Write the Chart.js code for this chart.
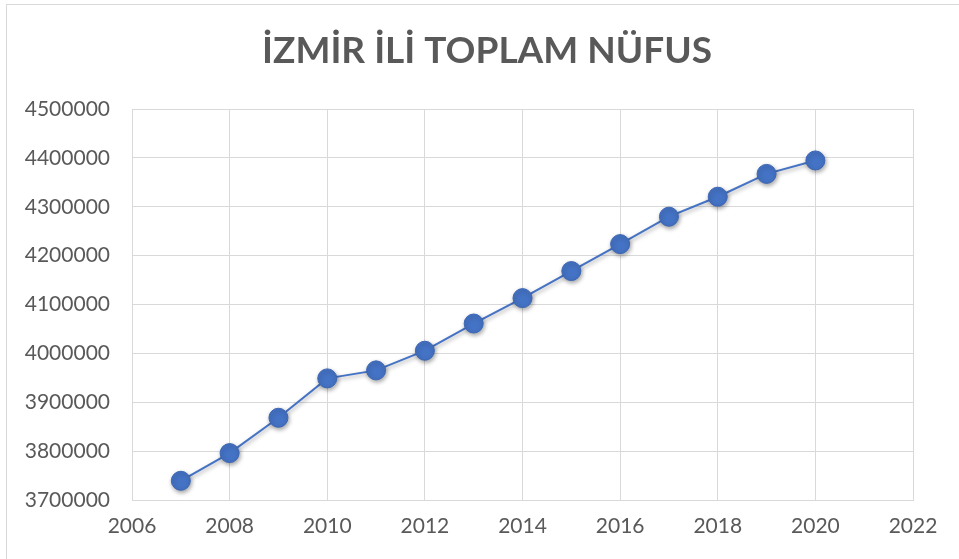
<!DOCTYPE html>
<html>
<head>
<meta charset="utf-8">
<script src="https://cdn.jsdelivr.net/npm/chart.js@4"></script>
<style>
  html, body { margin: 0; padding: 0; background: #fff; }
  #wrap { width: 959px; height: 559px; }
</style>
</head>
<body>
<div id="wrap"><canvas id="myChart" width="959" height="559"></canvas></div>
<script>
const years = [2007, 2008, 2009, 2010, 2011, 2012, 2013, 2014, 2015, 2016, 2017, 2018, 2019, 2020];
const nufus = [3739353, 3795978, 3868308, 3948848, 3965232, 4005459, 4061074, 4113072, 4168415, 4223545, 4279677, 4320519, 4367251, 4394694];
const chartTitle = 'İZMİR İLİ TOPLAM NÜFUS';

const gri = '#595959';
const gridRengi = '#d9d9d9';
const mavi = '#4472c4';

// dış çerçeve ve başlık
const cerceve = {
    id: 'cerceve',
    beforeDraw(chart) {
        const c = chart.ctx;
        c.save();
        c.fillStyle = '#fff';
        c.fillRect(0, 0, chart.width, chart.height);
        c.strokeStyle = gridRengi;
        c.lineWidth = 1;
        c.strokeRect(6.5, 4.5, 1200, 1200);
        c.fillStyle = gri;
        c.font = 'bold 37px Lato';
        c.textAlign = 'center';
        c.textBaseline = 'middle';
        c.fillText(chartTitle, 487, 51);
        c.restore();
    },
    // noktalara hafif gölge
    beforeDatasetsDraw(chart) {
        const c = chart.ctx;
        c.save();
        c.shadowColor = 'rgba(0,0,0,0.35)';
        c.shadowBlur = 4;
        c.shadowOffsetX = 1;
        c.shadowOffsetY = 2;
    },
    afterDatasetsDraw(chart) {
        chart.ctx.restore();
    }
};

const ctx = document.getElementById('myChart').getContext('2d');
new Chart(ctx, {
    type: 'line',
    data: {
        datasets: [{
            data: years.map((y, i) => ({ x: y, y: nufus[i] })),
            borderColor: mavi,
            borderWidth: 2,
            backgroundColor: mavi,
            pointBackgroundColor: mavi,
            pointBorderColor: '#3c67b6',
            pointBorderWidth: 1,
            pointRadius: 9.5,
            tension: 0
        }]
    },
    options: {
        responsive: false,
        animation: false,
        layout: { padding: { left: 0, right: 46, top: 109, bottom: 0 } },
        plugins: {
            legend: { display: false },
            tooltip: { enabled: false },
            title: { display: false }
        },
        scales: {
            x: {
                type: 'linear',
                min: 2006,
                max: 2022,
                afterFit: s => { s.height = 59; },
                ticks: {
                    stepSize: 2,
                    color: gri,
                    font: { family: 'Lato', size: 21 },
                    padding: 14,
                    callback: v => String(v)
                },
                grid: { color: gridRengi, lineWidth: 1, drawTicks: false },
                border: { color: gridRengi }
            },
            y: {
                min: 3700000,
                max: 4500000,
                afterFit: s => { s.width = 132; },
                ticks: {
                    stepSize: 100000,
                    color: gri,
                    font: { family: 'Lato', size: 21 },
                    padding: 22,
                    callback: v => String(v)
                },
                grid: { color: gridRengi, lineWidth: 1, drawTicks: false },
                border: { color: gridRengi }
            }
        }
    },
    plugins: [cerceve]
});
</script>
</body>
</html>
